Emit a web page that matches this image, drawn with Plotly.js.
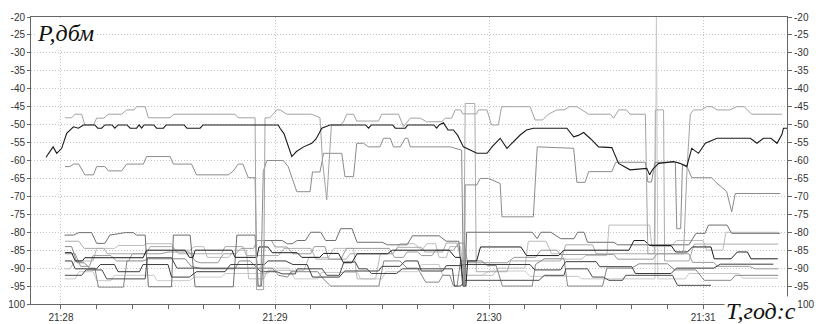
<!DOCTYPE html>
<html><head><meta charset="utf-8">
<script src="https://cdn.plot.ly/plotly-3.0.1.min.js"></script>
<style>html,body{margin:0;padding:0;background:#fff}#chart{width:816px;height:324px}</style>
</head><body><div id="chart"></div>
<script>
// time in seconds relative to 21:28:00, power in dBm
const tickTimes = [0, 60, 120, 180];
const tickLabels = ['21:28', '21:29', '21:30', '21:31'];
const yTicks = [-100,-95,-90,-85,-80,-75,-70,-65,-60,-55,-50,-45,-40,-35,-30,-25,-20];
const yLabelsLeft = ['100','-95','-90','-85','-80','-75','-70','-65','-60','-55','-50','-45','-40','-35','-30','-25','-20'];
const yLabelsRight = ['-100','-95','-90','-85','-80','-75','-70','-65','-60','-55','-50','-45','-40','-35','-30','-25','-20'];

const tA = [-4.2,-2.2,-1.2,0.2,1.6,3.5,4.9,6.3,9.5,10.3,11.4,12.3,14.3,15.1,16,18.5,19.4,21.2,21.9,22.6,23.3,26,26.8,28.7,29.5,34.5,35.3,39,39.8,60.9,61.4,62.5,64.7,66,68,70.3,71.5,73.1,75.4,85.4,86.2,87,93,93.7,96.5,97.2,104.5,105.3,106,107.2,108.5,110,111.2,112.8,116.6,119.4,121,123.1,125,126.5,128.7,130.5,132.4,141.8,143.7,145,146.5,148.5,150.7,154.4,156.3,159.5,164.2,165,165.8,167.5,171.7,173.5,175.4,176.8,178.7,180.6,183.9,193.2,195.1,196.9,199,200.7,202.1,202.5,203.5];
const vA = [-59.1,-56.2,-58,-56.6,-52.4,-50.6,-51,-50.1,-50.1,-51,-51,-50.1,-50.1,-51,-50.1,-50.1,-51,-51,-50.1,-51,-50.1,-50.1,-51,-51,-50.1,-50.1,-51,-51,-50.1,-50.1,-51,-52.5,-58.9,-57.5,-56.2,-55.2,-54,-51,-50.1,-50.1,-51,-50.1,-50.1,-51,-51,-50.1,-50.1,-51,-50.1,-49.5,-51.5,-51.5,-53,-56.2,-58,-58,-56,-53.8,-56.6,-55,-52.9,-51.5,-51,-51,-53.4,-53,-52.2,-54,-56.2,-56.4,-60.8,-62.6,-62.2,-64,-62.5,-60.8,-60.3,-60.8,-61.7,-56.6,-58,-55.2,-53.8,-53.8,-55.2,-53.8,-53.8,-55.2,-52.7,-51,-51];

const tB = [1.1,3,3.9,5.8,6.7,9.1,10,12,13.3,17,18.4,20.5,21.2,23.6,24.5,30.6,31.5,48.8,49.7,54.4,54.8,56.8,57.2,58.5,60.5,61.4,63.3,70.3,72.6,73.3,74.5,75.2,75.8,78.5,79.2,80.1,82,82.9,89,89.9,94.6,96,97.9,100.7,102.5,106.7,107.7,109.5,110.5,112,112.6,116.5,117,119.4,120.7,122.6,123.5,131.5,132.9,135,136.6,139,141,142.5,144.6,147.9,153.9,154.9,156.3,158.5,159.5,163.8,164.5,174.5,175.5,176.4,177.3,179.5,181,182.5,183.9,187.5,189.4,191.5,193.6,202.1];
const vB = [-48.1,-48.1,-47.1,-47.1,-50.1,-50.1,-48.2,-48.2,-47.1,-47.1,-45.9,-45.9,-45,-45,-48.1,-48.1,-47.1,-47.1,-48.1,-48.1,-96,-96,-48.1,-48.1,-45.9,-45.9,-47.1,-47.1,-48.1,-60,-71,-60,-50.1,-50.1,-49.2,-47.1,-47.1,-49,-49,-47.1,-47.1,-50.6,-48.2,-48.2,-49.2,-49.2,-48.2,-48.2,-45.9,-45.9,-47,-47,-45.9,-45.9,-50.1,-50.1,-45,-45,-48.7,-48.7,-47.1,-45.9,-45.9,-45,-45,-47.1,-47.1,-48.2,-45.9,-45.9,-47.1,-47.1,-86,-86,-62,-47.1,-45.9,-45.9,-45,-45,-45.9,-45.9,-45,-45,-47.1,-47.1];

const tC = [1.1,2.5,3.5,5,6.7,9.1,10,12.3,13.3,17,18.4,23.1,24,30.6,31.5,36.6,38,47,48.3,49.7,51,52.5,54.4,55,56,56.7,57.7,62.3,63.7,64.2,66.1,69.8,70.5,72.6,73.6,78.7,79.6,82,82.9,84.8,86.2,89.4,90.4,92.3,93.2,95.1,96.5,97.2,97.9,109.1,112.3,112.8,113.1,113.3,116.6,117.5,119.8,123.1,123.6,132.4,133.5,143.7,144.6,146.9,147.9,154.4,155.5,163.8,164.5,165.5,166.5,172.2,172.6,173.7,174.2,175.4,176.8,182.4,183.4,186.6,188,189,201.6];
const vC = [-61.7,-61.7,-61,-61,-64,-64,-61.7,-61.7,-62.9,-62.9,-61,-61,-58.9,-58.9,-61,-61,-64,-64,-62.9,-61,-61,-64.8,-64.8,-95,-95,-63.1,-60,-60,-61.7,-63.1,-68.7,-68.7,-63.2,-63.2,-58,-58,-64.5,-64.5,-55.2,-55.2,-56.2,-56.2,-53.8,-53.8,-56.2,-56.2,-53.8,-53.8,-56.2,-56.2,-57.1,-95,-95,-66.8,-66.8,-65,-65,-66.4,-75.7,-75.7,-56.2,-56.6,-66.1,-66.1,-63.1,-63.1,-60.5,-60.5,-66,-66,-60.5,-60.5,-79,-79,-61,-61.5,-64.8,-64.8,-65.9,-68.7,-74.3,-69.2,-69.2];

const t1 = [1,3.5,5,8.6,10,12.3,13.7,18,20.3,21.2,23.6,24.5,31,31.5,36.2,37.6,48.3,49.3,54.4,55.3,56.2,57,62,63.4,64.8,66.2,68.5,70,72.8,74.2,77,78.4,81.6,83,90,91.5,97,98.5,106,108,111.5,112.6,113.2,113.7,132.1,133.5,134.5,137.3,140.1,143.8,144.8,146.6,147.6,155,156,176,178,180.5,181.5,186.7,188,201.6];
const v1 = [-80.8,-80.8,-80.1,-80.1,-83.1,-83.1,-80.8,-80.1,-80.1,-80.8,-80.8,-95.2,-95.2,-80.8,-80.8,-95.2,-95.2,-80.8,-80.8,-95,-95,-82.3,-82.3,-83.2,-83.2,-82.3,-82.3,-80,-80,-82.3,-82.3,-79,-79,-82.8,-82.8,-83.5,-83.5,-81,-81,-82.5,-82.5,-95,-95,-80,-80,-81.8,-80,-80,-81.8,-81.8,-80,-80,-82.8,-82.8,-83.5,-83.5,-80.3,-80.3,-78,-78,-80.3,-80.3];

const t2 = [1.1,3,4,6,6.7,23,24,34.8,36,37,37.6,47.9,48.8,54.9,55.5,58,59.2,66.2,67.5,72.5,73.6,77.8,79.2,81.5,83,91.5,92.9,108.8,110.5,112,112.8,113.5,114,116.5,117.6,128.9,130.5,139.5,141,151.8,152.5,159.2,160.6,163.5,165,171,172.3,175.6,177,182.2,183.1,187.8,189.6,192.4,193.4,200.9];
const v2 = [-85.7,-85.7,-88,-88,-87.1,-87.1,-85,-85,-87,-87,-85,-85,-87,-87,-84.1,-84.1,-85.7,-85.7,-87,-87,-85.9,-85.9,-88.5,-88.5,-86,-86,-85,-85,-87,-87,-95,-95,-88,-88,-84.1,-84.1,-86.5,-86.5,-85,-85,-85,-85,-82.3,-82.3,-83.7,-83.7,-85.5,-85.5,-84.1,-84.1,-87.4,-87.4,-85.5,-85.5,-87.4,-87.4];

const t3 = [1.1,5.8,7,11.5,12.8,23.6,24.2,31,32.5,38,39.5,48.8,49.5,55,56,60.5,62,65.7,66.2,73.2,74.5,78,79.3,82.5,83.5,85.8,87,94,95.7,109.7,110.3,112,113.4,134,135.5,141,141.5,147.6,149,152,153.6,157.4,158.3,171.4,172.8,182.2];
const v3 = [-92,-92,-90.5,-90.5,-93,-93,-87.1,-87.1,-90,-90,-90.2,-90.2,-90,-90,-91,-91,-91.6,-91.6,-90.2,-90.2,-92,-92,-88.3,-88.3,-90.2,-90.2,-91.5,-91.5,-90.2,-90.2,-95,-95,-93.4,-93.4,-92,-92,-90.2,-90.2,-92.5,-92.5,-93.4,-93.4,-92,-92,-94.8,-94.8];

const t4 = [1.1,3,4.5,6.5,8,9.5,10.5,17.5,18.5,23,24.5,34.8,36.5,39.5,48.8,50,53,55,59.2,61,63.5,64.5,72,73.5,75.6,89.1,90.5,95,97,100,102.2,105.9,107,109,110,111,112,118,119.5,122,123.7,132.1,133,135.4,141,142,151.8,153,160,162,170,172,178,180.3,187.8,189,201];
const v4 = [-84,-84,-88.5,-88.5,-90,-90,-95.3,-95.3,-88,-88,-87.4,-87.4,-89.5,-90.2,-90.2,-88,-88,-90,-90,-92,-92.5,-91,-91,-93,-95,-95,-88,-88,-90,-90,-93.9,-93.9,-92,-92,-95,-95,-88,-88,-89.3,-89.3,-95,-95,-89,-87.4,-87.4,-95,-95,-90,-90,-88.8,-88.8,-90.5,-90.5,-93.4,-93.4,-92,-92];

const t5 = [1.1,2.5,4,9,10,15,16.1,23.1,24,31,32,36,37.5,40,41,47,48.5,52,52.6,56.8,58,68.1,69.5,75,76.5,82,83,88.2,89.5,93,95,99,101.2,102.5,105,106,108,109,112,113,121,122.5,130,131,136,137.5,140,141,146,147,153,153.6,165,165.6,171,172.5,180,181,185.5,186.4,201];
const v5 = [-90.2,-90.2,-88,-88,-84.5,-84.5,-83.7,-83.7,-83.2,-83.2,-85,-85,-84,-84,-87,-87,-85,-85,-93,-93,-90.6,-90.6,-87,-87,-84.5,-84.5,-93,-93,-86,-86,-83.2,-83.2,-85,-83.2,-83.2,-87,-87,-84,-84,-92,-92,-90,-90,-82.5,-82.5,-86,-86,-87.5,-87.5,-86.5,-86.5,-78,-78,-84,-84,-82.3,-82.3,-85,-85,-80,-80];

const t6 = [1.1,3,4,10,11,15,16,22,23,30,31,36,38,46,47.5,57,58,63,65,69,70.5,78,79.5,89,90,95,96.5,100,101,107,108,112,113,131.5,132.8,140,141.5,150,151,160,161,171,172.5,183,184.8,199.7];
const v6 = [-88,-88,-90.2,-90.2,-89,-89,-91,-91,-89,-89,-92.5,-92.5,-91,-91,-89,-89,-88,-88,-89,-89,-92.5,-92.5,-90.8,-90.8,-89.5,-89.5,-88,-88,-90.8,-90.8,-89.3,-89.3,-89,-89,-90.5,-90.5,-88.2,-88.2,-89.6,-89.6,-91.5,-91.5,-90,-90,-88.9,-88.9];

const t7 = [1.1,4,5.5,8,9,14,15.5,19,20,28,30,36,37.6,39,44,45.5,49,50.5,54,55,59,60,63.4,65,70,71,74,75,78.5,80,92,93.5,96,97,100,101,104,105,110,111.5,113,114,125,127,133,134.5,139,140,155,156,166,167,176,177,183,184,193,194.5,201];
const v7 = [-86,-86,-89.5,-89.5,-86.5,-86.5,-88,-88,-86,-86,-85.5,-85.5,-88,-88.5,-88.5,-86,-86,-84.5,-84.5,-82.3,-82.3,-84.1,-84.1,-86,-86,-84,-84,-87.5,-87.5,-84.5,-84.5,-87,-87,-85.5,-85.5,-86.5,-86.5,-85,-85,-83,-83,-88.5,-88.5,-87,-87,-85,-85,-86.2,-86.2,-87.5,-87.5,-86,-86,-88.4,-88.4,-89.5,-89.5,-90.2,-90.2];

const t8 = [1.1,4,5,9,10,14,15,26,27,36,37.5,45,46,58,59,64,65.5,72,73,83,84,90,91,100,101,106,107,118,120,130,131.5,145,146,166.5,166.9,167.3,175,176,190,191,201];
const v8 = [-93,-93,-91,-91,-93.5,-93.5,-92,-92,-93.5,-93.5,-92.5,-92.5,-91.5,-91.5,-90,-90,-93,-93,-91.2,-91.2,-93,-93,-91,-91,-89,-89,-92,-92,-90.8,-90.8,-92.3,-92.3,-93,-93,-20,-93,-93,-91.5,-91.5,-92.8,-92.8];

const t9 = [1.1,5,6.5,12,13,24,25,31,33,45,46,51,52,61,62.5,70,71.5,80,81,93,94.5,101,102,107,108,111,112.9,113.3,116,116.4,125,126,140,141.5,149,150,166.3,166.6,168.9,169.2,176,177.5,201];
const v9 = [-82.5,-82.5,-84.5,-84.5,-86,-86,-84,-84,-86,-86,-84,-84,-86.5,-86.5,-84.5,-84.5,-87.5,-87.5,-86,-86,-84.2,-84.2,-85.5,-85.5,-83,-83,-91,-44.1,-44.1,-91,-91,-88,-88,-83.5,-83.5,-86,-86,-45.9,-45.9,-88,-88,-83.3,-83.3];

const series = [
  [t8, v8, '#c9c9c9', 1],
  [t5, v5, '#bcbcbc', 1],
  [t9, v9, '#ababab', 1],
  [t7, v7, '#9a9a9a', 1],
  [t4, v4, '#878787', 1],
  [t1, v1, '#6f6f6f', 1],
  [t6, v6, '#3c3c3c', 1],
  [t3, v3, '#4a4a4a', 1],
  [t2, v2, '#1e1e1e', 1],
  [tC, vC, '#8c8c8c', 1],
  [tB, vB, '#a3a3a3', 1],
  [tA, vA, '#1a1a1a', 1.1]
];

const traces = series.map(s => ({
  x: s[0], y: s[1], type: 'scatter', mode: 'lines',
  line: {color: s[2], width: s[3]}, hoverinfo: 'skip'
}));
traces.push({x: tA, y: vA, type: 'scatter', mode: 'lines', yaxis: 'y2',
  line: {color: 'rgba(0,0,0,0)', width: 0}, hoverinfo: 'skip'});

const tickFont = {family: 'Liberation Sans, Arial, sans-serif', size: 10, color: '#333'};
const layout = {
  width: 816, height: 324,
  margin: {l: 31, r: 29, t: 17, b: 20},
  paper_bgcolor: '#fff', plot_bgcolor: '#fff',
  showlegend: false,
  xaxis: {
    range: [-8.4, 203.5], tickmode: 'array', tickvals: tickTimes, ticktext: tickLabels,
    ticks: 'outside', ticklen: 4, tickcolor: '#666', tickfont: tickFont,
    showline: true, linecolor: '#666', linewidth: 1, mirror: true,
    showgrid: true, gridcolor: '#c4c4c4', griddash: '1px,2px', gridwidth: 1, zeroline: false,
    minor: {dtick: 10, tick0: 0, ticks: 'outside', ticklen: 4, tickcolor: '#666', showgrid: false}
  },
  yaxis: {
    range: [-100, -20], tickmode: 'array', tickvals: yTicks, ticktext: yLabelsLeft,
    ticks: 'outside', ticklen: 3, tickcolor: '#666', tickfont: tickFont,
    showline: true, linecolor: '#666', linewidth: 1,
    showgrid: true, gridcolor: '#c4c4c4', griddash: '1px,2px', gridwidth: 1, zeroline: false
  },
  yaxis2: {
    range: [-100, -20], overlaying: 'y', side: 'right', tickmode: 'array',
    tickvals: yTicks, ticktext: yLabelsRight,
    ticks: 'outside', ticklen: 4, tickcolor: '#666', tickfont: tickFont,
    showline: true, linecolor: '#666', linewidth: 1, showgrid: false, zeroline: false
  },
  annotations: [
    {text: '<i>P,дбм</i>', xref: 'paper', yref: 'paper', x: 0.005, y: 0.944,
     xanchor: 'left', yanchor: 'middle', showarrow: false, bgcolor: '#fff',
     font: {family: 'Liberation Serif, Times New Roman, serif', size: 24, color: '#111'}},
    {text: '<i>T,год:с</i>', xref: 'paper', yref: 'paper', x: 0.917, y: -0.026,
     xanchor: 'left', yanchor: 'middle', showarrow: false, bgcolor: '#fff',
     font: {family: 'Liberation Serif, Times New Roman, serif', size: 24, color: '#111'}}
  ]
};
Plotly.newPlot('chart', traces, layout, {staticPlot: true, displayModeBar: false});
</script></body></html>
